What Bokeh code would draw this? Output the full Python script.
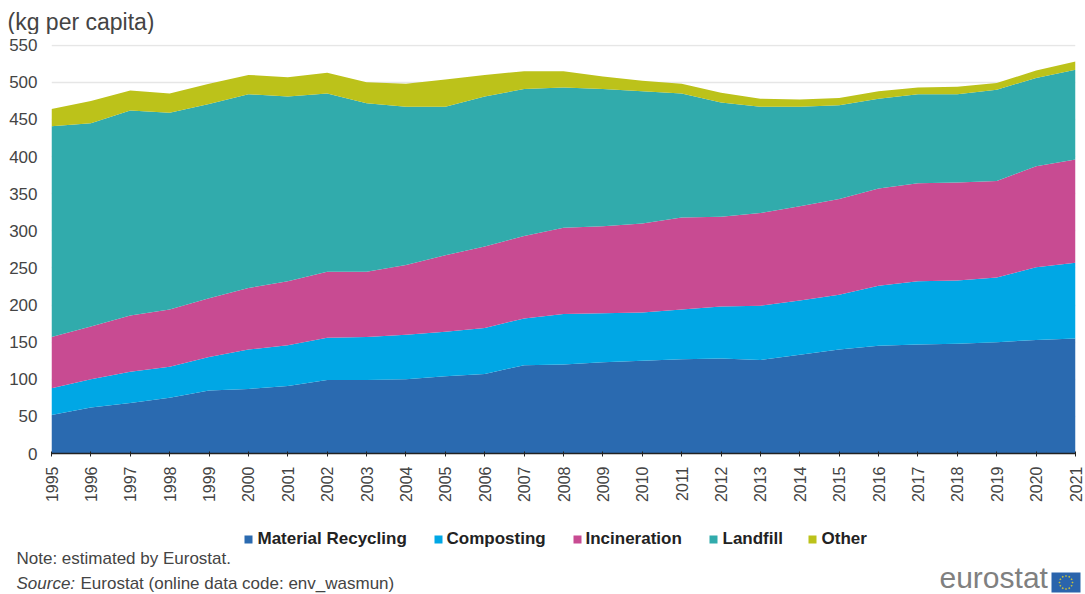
import math

from bokeh.embed import file_html
from bokeh.layouts import column
from bokeh.models import ColumnDataSource, FixedTicker, Label, PolyAnnotation, Range1d
from bokeh.plotting import figure
from bokeh.resources import INLINE

years = list(range(1995, 2022))
material_recycling = [52, 62, 68, 75, 85, 87, 91, 99, 99, 100, 104, 107, 119, 120, 123, 125, 127, 128, 126, 133, 140, 145, 147, 148, 150, 153, 155]
composting = [36, 38, 42, 42, 45, 53, 55, 57, 58, 60, 60, 62, 63, 68, 66, 65, 67, 70, 73, 73, 74, 81, 85, 85, 87, 98, 102]
incineration = [69, 71, 76, 77, 79, 83, 86, 89, 88, 94, 103, 110, 111, 116, 117, 120, 124, 121, 125, 127, 129, 131, 132, 132, 130, 136, 139]
landfill = [284, 274, 276, 265, 262, 261, 249, 240, 227, 213, 200, 202, 198, 189, 185, 178, 167, 154, 143, 134, 126, 121, 120, 119, 123, 119, 121]
other = [23, 30, 27, 26, 27, 26, 26, 28, 28, 31, 37, 29, 24, 22, 17, 14, 13, 13, 11, 10, 10, 10, 9, 10, 9, 10, 11]

series_names = ["Material Recycling", "Composting", "Incineration", "Landfill", "Other"]
series_colors = ["#2a6ab0", "#00a7e5", "#c84b92", "#31abac", "#bcc21a"]
y_ticks = list(range(0, 551, 50))

FONT = "Liberation Sans"
TEXT = "#444444"

WIDTH = 1085
HEADER_BOTTOM = 34   # page row where the chart strip starts
CHART_BOTTOM = 520   # page row where the footer strip starts
PAGE_BOTTOM = 594


def strip(top, bottom):
    """Axis-free strip whose data coordinates are page pixels."""
    f = figure(
        width=WIDTH, height=bottom - top, output_backend="svg", toolbar_location=None,
        x_range=Range1d(0, WIDTH), y_range=Range1d(bottom, top),
        x_axis_location=None, y_axis_location=None, min_border=0,
        background_fill_color="white", border_fill_color="white",
    )
    f.outline_line_color = None
    f.grid.visible = False
    return f


def add_text(f, x, y, text, size, color=TEXT, style="normal"):
    f.add_layout(Label(
        x=x, y=y, text=text, text_font=FONT, text_font_size=size, text_color=color,
        text_font_style=style, text_baseline="middle",
    ))


def add_poly(f, xs, ys, color):
    f.add_layout(PolyAnnotation(xs=xs, ys=ys, fill_color=color, fill_alpha=1, line_color=None))


header = strip(0, HEADER_BOTTOM)
add_text(header, 7, 21, "(kg per capita)", "23px")

# Stacked areas with their axes
source = ColumnDataSource(dict(
    year=years,
    **dict(zip(series_names, [material_recycling, composting, incineration, landfill, other])),
))

p = figure(
    width=WIDTH, height=CHART_BOTTOM - HEADER_BOTTOM, output_backend="svg", toolbar_location=None,
    x_range=Range1d(1995, 2021), y_range=Range1d(0, 551),
    min_border_left=51, min_border_right=10, min_border_top=44 - HEADER_BOTTOM, min_border_bottom=CHART_BOTTOM - 453,
    background_fill_color="white", border_fill_color="white",
)
p.outline_line_color = None

p.varea_stack(stackers=series_names, x="year", color=series_colors, source=source)

p.xgrid.visible = False
p.ygrid.grid_line_color = "#e6e6e6"
p.ygrid.grid_line_width = 1.5
p.ygrid.ticker = FixedTicker(ticks=y_ticks)

p.yaxis.ticker = FixedTicker(ticks=y_ticks)
p.yaxis.axis_line_color = None
p.yaxis.major_tick_line_color = None
p.yaxis.minor_tick_line_color = None
p.yaxis.major_label_text_font = FONT
p.yaxis.major_label_text_font_size = "17px"
p.yaxis.major_label_text_color = TEXT
p.yaxis.major_label_standoff = 8

p.xaxis.ticker = FixedTicker(ticks=years)
p.xaxis.axis_line_color = "#222222"
p.xaxis.axis_line_width = 1.5
p.xaxis.major_tick_line_color = "#222222"
p.xaxis.major_tick_in = 2
p.xaxis.major_tick_out = 3
p.xaxis.minor_tick_line_color = None
p.xaxis.major_label_orientation = math.pi / 2
p.xaxis.major_label_text_font = FONT
p.xaxis.major_label_text_font_size = "16px"
p.xaxis.major_label_text_color = TEXT
p.xaxis.major_label_standoff = 10

footer = strip(CHART_BOTTOM, PAGE_BOTTOM)

# Legend row under the axis
legend_swatch_x = [244, 434, 573, 709, 808]
legend_text_x = [257, 446, 585, 722, 821]
for name, color, sx, tx in zip(series_names, series_colors, legend_swatch_x, legend_text_x):
    add_poly(footer, [sx, sx + 8, sx + 8, sx], [535, 535, 543, 543], color)
    add_text(footer, tx, 538, name, "17px", color="#222222", style="bold")

add_text(footer, 16, 558, "Note: estimated by Eurostat.", "17px")
add_text(footer, 16, 583, "Source:", "17px", style="italic")
add_text(footer, 80, 583, "Eurostat (online data code: env_wasmun)", "17px")
add_text(footer, 939, 577, "eurostat", "30px", color="#808080")

# EU flag beside the wordmark, with its ring of twelve stars
flag_l, flag_r, flag_t, flag_b = 1051, 1080, 572, 592
add_poly(footer, [flag_l, flag_r, flag_r, flag_l], [flag_t, flag_t, flag_b, flag_b], "#2a64ac")
cx, cy = (flag_l + flag_r) / 2, (flag_t + flag_b) / 2
for k in range(12):
    a = k * math.pi / 6
    sx, sy = cx + 6.5 * math.cos(a), cy + 6.5 * math.sin(a)
    add_poly(footer, [sx - 1.1, sx, sx + 1.1, sx], [sy, sy + 1.1, sy, sy - 1.1], "#c9c23c")

# Nesting the strips keeps their frames from lining up with the chart's frame
page = column(column(header, spacing=0), column(p, spacing=0), column(footer, spacing=0), spacing=0)
open("out.html", "w").write(file_html(page, INLINE))
